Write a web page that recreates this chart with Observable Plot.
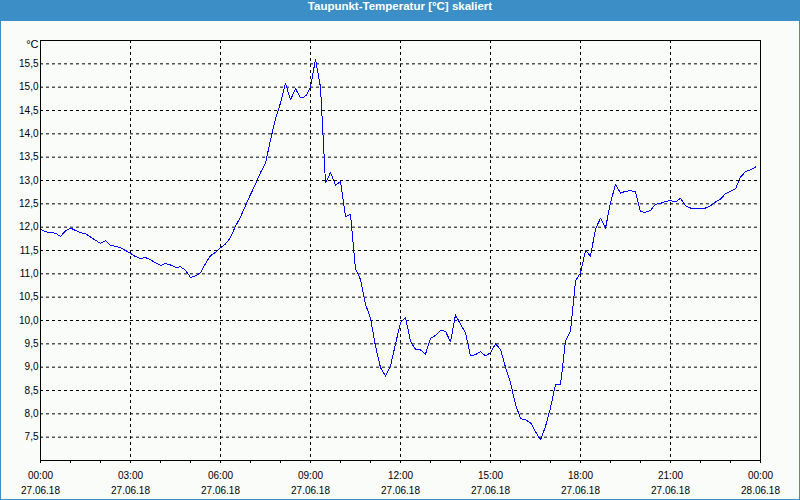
<!DOCTYPE html>
<html>
<head>
<meta charset="utf-8">
<script src="https://cdn.jsdelivr.net/npm/d3@7"></script>
<script src="https://cdn.jsdelivr.net/npm/@observablehq/plot@0.6"></script>
<style>
  html, body { margin: 0; padding: 0; background: #ffffff; }
  #win { width: 800px; height: 500px; box-sizing: border-box; background: #3b8fc6; padding: 0 1px 1px 1px; overflow: hidden; }
  #title { height: 21px; line-height: 20px; color: #ffffff; text-align: center; font: bold 11.5px "Liberation Sans", "DejaVu Sans", sans-serif; }
  #chart { width: 798px; height: 478px; background: #fafcfa; }
  #chart svg { display: block; }
</style>
</head>
<body>
<div id="win">
  <div id="title">Taupunkt-Temperatur [°C] skaliert</div>
  <div id="chart"></div>
</div>
<script>
// ---- Data ----
const chartTitle = "Taupunkt-Temperatur [°C] skaliert";
const unitLabel = "°C";
const startTime = "2018-06-27T00:00:00Z";
const endTime = "2018-06-28T00:00:00Z";
const sampleMinutes = 10;

// Dew point [°C], one reading every 10 minutes from 00:00 to 23:50
const dewPoint = [
  11.96, 11.90, 11.89, 11.87, 11.80, 11.92, 11.98, 11.93, 11.88, 11.86,
  11.79, 11.72, 11.65, 11.71, 11.61, 11.59, 11.56, 11.50, 11.44, 11.37,
  11.33, 11.35, 11.30, 11.24, 11.18, 11.22, 11.19, 11.14, 11.15, 11.08,
  10.92, 10.96, 11.02, 11.22, 11.39, 11.46, 11.56, 11.64, 11.78, 12.02,
  12.22, 12.46, 12.70, 12.92, 13.17, 13.37, 13.87, 14.32, 14.66, 15.08,
  14.73, 14.97, 14.77, 14.80, 15.00, 15.60, 15.00, 12.95, 13.17, 12.90,
  12.98, 12.23, 12.27, 11.10, 10.88, 10.35, 10.05, 9.45, 8.99, 8.81,
  9.02, 9.50, 9.95, 10.07, 9.55, 9.38, 9.37, 9.28, 9.62, 9.68,
  9.79, 9.77, 9.54, 10.12, 9.92, 9.74, 9.24, 9.27, 9.33, 9.24,
  9.31, 9.50, 9.38, 9.00, 8.67, 8.20, 7.90, 7.87, 7.81, 7.62,
  7.44, 7.73, 8.13, 8.63, 8.62, 9.56, 9.77, 10.85, 11.02, 11.50,
  11.38, 11.96, 12.19, 11.98, 12.52, 12.92, 12.73, 12.77, 12.78, 12.76,
  12.33, 12.32, 12.36, 12.49, 12.51, 12.55, 12.57, 12.54, 12.62, 12.46,
  12.41, 12.41, 12.41, 12.41, 12.46, 12.54, 12.60, 12.72, 12.77, 12.82,
  13.07, 13.19, 13.23, 13.29
];

const yDomain = [7.0, 16.0];
const yTicks = [7.5, 8.0, 8.5, 9.0, 9.5, 10.0, 10.5, 11.0, 11.5, 12.0, 12.5, 13.0, 13.5, 14.0, 14.5, 15.0, 15.5];
const yTickLabels = ["7,5", "8,0", "8,5", "9,0", "9,5", "10,0", "10,5", "11,0", "11,5", "12,0", "12,5", "13,0", "13,5", "14,0", "14,5", "15,0", "15,5"];

const xMajorTicks = ["2018-06-27T00:00:00Z", "2018-06-27T03:00:00Z", "2018-06-27T06:00:00Z", "2018-06-27T09:00:00Z",
  "2018-06-27T12:00:00Z", "2018-06-27T15:00:00Z", "2018-06-27T18:00:00Z", "2018-06-27T21:00:00Z", "2018-06-28T00:00:00Z"];
const xTickLabels = ["00:00\n27.06.18", "03:00\n27.06.18", "06:00\n27.06.18", "09:00\n27.06.18",
  "12:00\n27.06.18", "15:00\n27.06.18", "18:00\n27.06.18", "21:00\n27.06.18", "00:00\n28.06.18"];

// ---- Build ----
const t0 = new Date(startTime);
const rows = dewPoint.map((v, i) => ({ time: new Date(+t0 + i * sampleMinutes * 60000), value: v }));
const majorDates = xMajorTicks.map(s => new Date(s));
const innerGrid = majorDates.slice(1, -1);
const hourTicks = d3.utcHour.range(new Date(startTime), new Date(+new Date(endTime) + 1));
const yLabelMap = new Map(yTicks.map((t, i) => [t, yTickLabels[i]]));
const xLabelMap = new Map(majorDates.map((d, i) => [+d, xTickLabels[i]]));

const W = 798, H = 478;
const font = '"Liberation Sans", "DejaVu Sans", sans-serif';

const plot = Plot.plot({
  width: W,
  height: H,
  marginLeft: 39,
  marginRight: 39,
  marginTop: 19,
  marginBottom: 39,
  style: { background: "transparent", fontFamily: font, fontSize: "10px", color: "#000" },
  x: { type: "utc", domain: [new Date(startTime), new Date(endTime)], axis: null },
  y: { domain: yDomain, axis: null },
  marks: [
    Plot.ruleY(yTicks, { stroke: "#000", strokeDasharray: "3,3", strokeOpacity: 1 }),
    Plot.ruleX(innerGrid, { stroke: "#000", strokeDasharray: "3,3", strokeOpacity: 1 }),
    Plot.line(rows, { x: "time", y: "value", stroke: "#0000ff", strokeWidth: 1, shapeRendering: "crispEdges" }),
    Plot.frame({ stroke: "#000", strokeOpacity: 1 }),
    Plot.axisX(hourTicks, { tickSize: 3, tickFormat: () => "", label: null, stroke: "#000", strokeOpacity: 1 }),
    Plot.text(majorDates, {
      x: d => d, frameAnchor: "bottom", text: d => xLabelMap.get(+d),
      lineAnchor: "top", lineHeight: 1.5, dy: 8, fill: "#000", fontSize: 10
    }),
    Plot.text(yTicks, {
      y: d => d, frameAnchor: "left", text: d => yLabelMap.get(d),
      textAnchor: "end", dx: -2, fill: "#000", fontSize: 10
    }),
    Plot.text([unitLabel], {
      frameAnchor: "top-left", text: d => d, textAnchor: "end", lineAnchor: "top",
      dx: -2, dy: 0, fill: "#000", fontSize: 11
    })
  ]
});
document.getElementById("chart").appendChild(plot);
</script>
</body>
</html>
